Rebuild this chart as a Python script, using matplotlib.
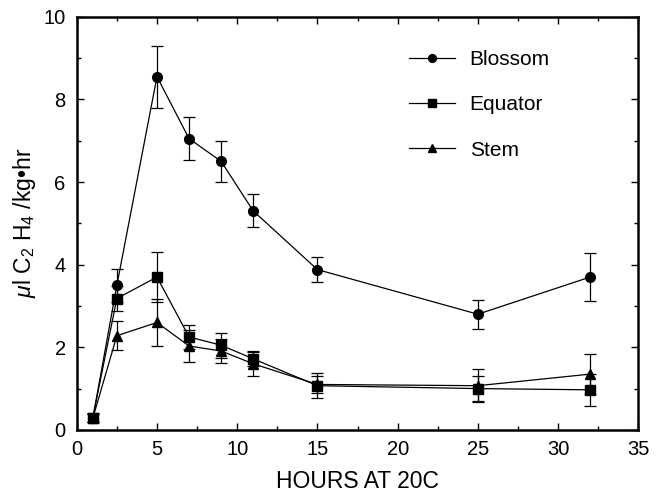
import matplotlib
matplotlib.use("Agg")
from matplotlib import pyplot as plt
from matplotlib.ticker import MultipleLocator

plt.rcParams['font.family'] = ['Liberation Sans', 'DejaVu Sans']
plt.rcParams['mathtext.fontset'] = 'custom'
plt.rcParams['mathtext.rm'] = 'Liberation Sans'
plt.rcParams['mathtext.it'] = 'Liberation Sans:italic'

# hours at 20C
hours = [1, 2.5, 5, 7, 9, 11, 15, 25, 32]

blossom = [0.28, 3.5, 8.55, 7.05, 6.5, 5.3, 3.88, 2.8, 3.7]
blossom_err = [0.1, 0.4, 0.75, 0.52, 0.5, 0.4, 0.3, 0.35, 0.57]

equator = [0.3, 3.18, 3.7, 2.25, 2.05, 1.72, 1.07, 1.0, 0.97]
equator_err = [0.1, 0.3, 0.6, 0.3, 0.3, 0.17, 0.3, 0.3, 0.38]

stem = [0.28, 2.28, 2.6, 2.03, 1.91, 1.6, 1.1, 1.07, 1.35]
stem_err = [0.1, 0.35, 0.58, 0.38, 0.3, 0.3, 0.2, 0.4, 0.48]

series = [("Blossom", blossom, blossom_err, "o"),
          ("Equator", equator, equator_err, "s"),
          ("Stem", stem, stem_err, "^")]

fig = plt.figure(figsize=(6.56, 4.93), dpi=100)
ax = fig.add_axes([0.117, 0.128, 0.856, 0.838])

for name, vals, errs, mk in series:
    ax.errorbar(hours, vals, yerr=errs, color="black", marker=mk, markersize=7,
                linewidth=0.9, elinewidth=0.9, capsize=4, capthick=0.9, label=name)

ax.set_xlim(0, 35)
ax.set_ylim(0, 10)
ax.xaxis.set_major_locator(MultipleLocator(5))
ax.xaxis.set_minor_locator(MultipleLocator(2.5))
ax.yaxis.set_major_locator(MultipleLocator(2))
ax.yaxis.set_minor_locator(MultipleLocator(1))
ax.tick_params(which="both", direction="in", top=True, right=True, labelsize=14.5, width=1)
ax.tick_params(axis="x", pad=7)
ax.tick_params(axis="y", pad=8)
ax.tick_params(which="major", length=5)
ax.tick_params(which="minor", length=3)
for sp in ax.spines.values():
    sp.set_linewidth(1.8)

ax.set_xlabel("HOURS AT 20C", fontsize=16.5, labelpad=8)
ax.set_ylabel(r"$\mathit{\mu}$l C$_2$ H$_4$ /kg•hr", fontsize=16.5, labelpad=4)

handles, labels = ax.get_legend_handles_labels()
handles = [h[0] for h in handles]
ax.legend(handles, labels, loc="upper left", bbox_to_anchor=(0.592, 0.92), frameon=False,
          fontsize=15, handlelength=2.2, labelspacing=1.27, handletextpad=0.7,
          borderpad=0, borderaxespad=0, markerscale=0.8)

plt.savefig("out.png", dpi=100)
